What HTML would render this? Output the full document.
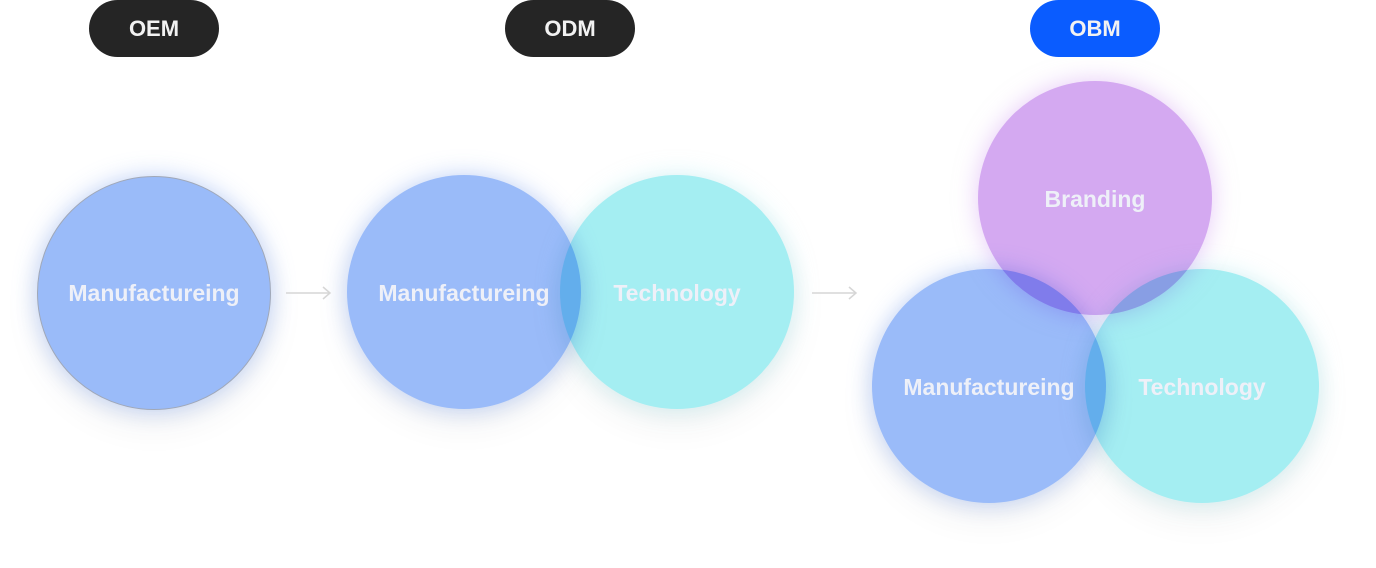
<!DOCTYPE html>
<html><head><meta charset="utf-8"><style>
html,body{margin:0;padding:0;background:#fff;}
body{width:1376px;height:568px;position:relative;overflow:hidden;font-family:"Liberation Sans",sans-serif;}
.pill{position:absolute;top:0;width:130px;height:57px;border-radius:29px;background:#252525;color:#f2f2f2;font-weight:bold;font-size:22px;line-height:57px;text-align:center;}
.c{position:absolute;width:234px;height:234px;border-radius:50%;mix-blend-mode:multiply;}
.b{background:#9abbf9;box-shadow:0 0 24px rgba(120,160,245,0.45),0 14px 36px rgba(0,0,0,0.07);}
.t{background:#a4eef2;box-shadow:0 0 24px rgba(140,225,235,0.35),0 14px 36px rgba(0,0,0,0.07);}
.p{background:#d4a9f1;box-shadow:0 0 24px rgba(205,150,240,0.5);}
.l{position:absolute;width:234px;text-align:center;color:#eef0f8;font-weight:bold;font-size:23px;line-height:26px;}
svg{position:absolute;}
</style></head><body>
<div class="pill" style="left:89px">OEM</div>
<div class="pill" style="left:505px">ODM</div>
<div class="pill" style="left:1030px;background:#0a5cff">OBM</div>

<div class="c b" style="left:37px;top:176px;border:1px solid #a0a8b8;box-sizing:border-box"></div>

<div class="c b" style="left:347px;top:175px"></div>
<div class="c t" style="left:560px;top:175px"></div>

<div class="c p" style="left:978px;top:81px"></div>
<div class="c b" style="left:872px;top:269px"></div>
<div class="c t" style="left:1085px;top:269px"></div>

<div class="l" style="left:37px;top:280px">Manufactureing</div>
<div class="l" style="left:347px;top:280px">Manufactureing</div>
<div class="l" style="left:560px;top:280px">Technology</div>
<div class="l" style="left:978px;top:186px">Branding</div>
<div class="l" style="left:872px;top:374px">Manufactureing</div>
<div class="l" style="left:1085px;top:374px">Technology</div>

<svg style="left:284px;top:284px" width="50" height="18"><path d="M2 9H46M39 3L46 9L39 15" stroke="#d6d6d6" stroke-width="1.5" fill="none"/></svg>
<svg style="left:810px;top:284px" width="50" height="18"><path d="M2 9H46M39 3L46 9L39 15" stroke="#d6d6d6" stroke-width="1.5" fill="none"/></svg>
</body></html>
